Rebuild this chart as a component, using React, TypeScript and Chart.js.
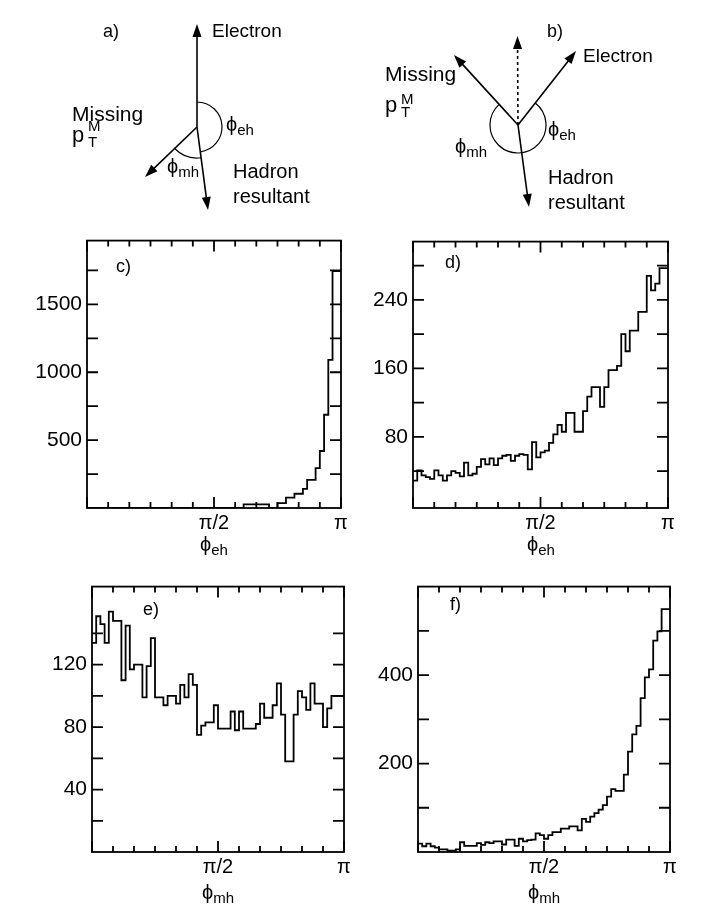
import { useEffect, useRef } from "react";
import { Chart, LineController, LineElement, PointElement, LinearScale } from "chart.js";

Chart.register(LineController, LineElement, PointElement, LinearScale);
Chart.defaults.font.family = "'Liberation Sans', Arial, sans-serif";
Chart.defaults.color = "#000";

// 60 bins of pi/60 each
const countsC = [
  0, 0, 0, 0, 0, 0, 0, 0, 0, 0,
  0, 0, 0, 0, 0, 0, 0, 0, 0, 0,
  0, 0, 0, 0, 0, 0, 0, 0, 0, 0,
  0, 0, 0, 0, 0, 0, 0, 27, 27, 27,
  27, 27, 27, 0, 0, 36, 36, 76, 76, 105,
  105, 141, 207, 207, 294, 420, 687, 1092, 1745, 1745,
];
const countsD = [
  29, 41, 35, 33, 31, 41, 35, 29, 35, 40,
  38, 34, 50, 35, 37, 45, 54, 48, 55, 47,
  55, 58, 59, 52, 58, 60, 59, 42, 74, 56,
  62, 64, 73, 83, 94, 86, 108, 108, 86, 86,
  110, 127, 138, 138, 115, 138, 158, 158, 163, 200,
  180, 204, 204, 226, 226, 268, 251, 259, 277, 277,
];
const countsE = [
  134, 151, 146, 134, 154, 148, 148, 110, 145, 117,
  120, 120, 99, 119, 137, 99, 99, 94, 100, 100,
  95, 107, 99, 114, 107, 75, 81, 83, 83, 94,
  79, 79, 79, 90, 78, 90, 79, 79, 79, 82,
  95, 86, 86, 94, 108, 88, 58, 58, 88, 103,
  99, 91, 108, 95, 95, 80, 92, 100, 100, 100,
];
const countsF = [
  19, 13, 19, 13, 10, 6, 6, 3, 3, 6,
  22, 14, 14, 14, 20, 16, 22, 20, 24, 24,
  17, 28, 28, 14, 30, 24, 27, 28, 42, 38,
  30, 38, 45, 45, 53, 53, 58, 58, 49, 75,
  68, 80, 88, 96, 106, 125, 142, 138, 138, 175,
  227, 266, 285, 348, 395, 413, 478, 499, 549, 549,
];

// x ticks every pi/12
const xTickLabels = ["", "", "", "", "", "", "π/2", "", "", "", "", "", "π"];

const yTicksC = [250, 500, 750, 1000, 1250, 1500, 1750];
const yLabelsC = [500, 1000, 1500];
const yTicksD = [40, 80, 120, 160, 200, 240, 280];
const yLabelsD = [80, 160, 240];
const yTicksE = [20, 40, 60, 80, 100, 120, 140];
const yLabelsE = [40, 80, 120];
const yTicksF = [100, 200, 300, 400, 500];
const yLabelsF = [200, 400];

const Y_AXIS_W = 70;
const X_AXIS_H = 26;
const PAD_T = 14;
const PAD_R = 16;
const FONT = "'Liberation Sans', Arial, sans-serif";
const PHI = "\u03D5";

// frame around the plot with inward ticks on all four sides
const frameTicks = {
  id: "frameTicks",
  afterDatasetsDraw(chart: any) {
    const { ctx, chartArea: a } = chart;
    const xs = chart.scales.x;
    const ys = chart.scales.y;
    ctx.save();
    ctx.strokeStyle = "#000";
    ctx.lineWidth = 1.8;
    ctx.strokeRect(a.left, a.top, a.right - a.left, a.bottom - a.top);
    ctx.beginPath();
    xs.ticks.forEach((tk: any, k: number) => {
      const px = xs.getPixelForValue(tk.value);
      const len = k % 6 === 0 ? 11 : 6;
      ctx.moveTo(px, a.bottom);
      ctx.lineTo(px, a.bottom - len);
      ctx.moveTo(px, a.top);
      ctx.lineTo(px, a.top + len);
    });
    ys.ticks.forEach((tk: any) => {
      const py = ys.getPixelForValue(tk.value);
      ctx.moveTo(a.left, py);
      ctx.lineTo(a.left + 11, py);
      ctx.moveTo(a.right, py);
      ctx.lineTo(a.right - 11, py);
    });
    ctx.stroke();
    ctx.restore();
  },
};

interface PanelProps {
  counts: number[];
  yRange: [number, number];
  yTicks: number[];
  yLabels: number[];
  box: [number, number, number, number]; // plot area l, t, r, b on the page
}

function Histogram({ counts, yRange, yTicks, yLabels, box }: PanelProps) {
  const ref = useRef<HTMLCanvasElement>(null);
  const [l, t, r, b] = box;
  const left = l - Y_AXIS_W;
  const top = t - PAD_T;
  const width = r + PAD_R - left;
  const height = b + X_AXIS_H - top;

  useEffect(() => {
    if (!ref.current) return;
    const w = Math.PI / counts.length;
    const pts = [{ x: 0, y: counts[0] }, ...counts.map((v, i) => ({ x: (i + 1) * w, y: v }))];
    const chart = new Chart(ref.current, {
      type: "line",
      data: {
        datasets: [
          {
            data: pts,
            stepped: "after",
            borderColor: "#000",
            borderWidth: 1.8,
            pointRadius: 0,
            fill: false,
          },
        ],
      },
      options: {
        responsive: false,
        animation: false,
        events: [],
        layout: { padding: { top: PAD_T, right: PAD_R, left: 0, bottom: 0 } },
        plugins: { legend: { display: false }, tooltip: { enabled: false } },
        scales: {
          x: {
            type: "linear",
            min: 0,
            max: Math.PI,
            grid: { display: false, drawTicks: false },
            border: { display: false },
            afterBuildTicks: (s: any) => {
              s.ticks = xTickLabels.map((_, k) => ({ value: (k * Math.PI) / 12 }));
            },
            afterFit: (s: any) => {
              s.height = X_AXIS_H;
            },
            ticks: {
              autoSkip: false,
              maxRotation: 0,
              padding: 3,
              font: { size: 20 },
              callback: (_v: any, i: number) => xTickLabels[i],
            },
          },
          y: {
            type: "linear",
            min: yRange[0],
            max: yRange[1],
            grid: { display: false, drawTicks: false },
            border: { display: false },
            afterBuildTicks: (s: any) => {
              s.ticks = yTicks.map((v) => ({ value: v }));
            },
            afterFit: (s: any) => {
              s.width = Y_AXIS_W;
            },
            ticks: {
              autoSkip: false,
              padding: 5,
              font: { size: 21 },
              callback: (v: any) => (yLabels.includes(Number(v)) ? String(v) : ""),
            },
          },
        },
      } as any,
      plugins: [frameTicks],
    });
    return () => chart.destroy();
  }, []);

  return (
    <canvas
      ref={ref}
      width={width}
      height={height}
      style={{ position: "absolute", left, top, width, height }}
    />
  );
}

function Arrow({ from, to, dashed }: { from: number[]; to: number[]; dashed?: boolean }) {
  const [x1, y1] = from;
  const [x2, y2] = to;
  const L = Math.hypot(x2 - x1, y2 - y1);
  const ux = (x2 - x1) / L;
  const uy = (y2 - y1) / L;
  const hl = 13;
  const hw = 4.5;
  const bx = x2 - ux * hl;
  const by = y2 - uy * hl;
  const pts = `${x2},${y2} ${bx - uy * hw},${by + ux * hw} ${bx + uy * hw},${by - ux * hw}`;
  return (
    <g>
      <line
        x1={x1}
        y1={y1}
        x2={bx + ux * 2}
        y2={by + uy * 2}
        stroke="#000"
        strokeWidth={1.6}
        strokeDasharray={dashed ? "3 3" : undefined}
      />
      <polygon points={pts} fill="#000" />
    </g>
  );
}

// clockwise arc around (cx, cy) from angle a0 to a1 (degrees, screen coords)
function Arc({ c, r, a0, a1 }: { c: number[]; r: number; a0: number; a1: number }) {
  const rad = Math.PI / 180;
  const sx = c[0] + r * Math.cos(a0 * rad);
  const sy = c[1] + r * Math.sin(a0 * rad);
  const ex = c[0] + r * Math.cos(a1 * rad);
  const ey = c[1] + r * Math.sin(a1 * rad);
  let sweep = a1 - a0;
  if (sweep < 0) sweep += 360;
  const large = sweep > 180 ? 1 : 0;
  return (
    <path
      d={`M${sx} ${sy} A${r} ${r} 0 ${large} 1 ${ex} ${ey}`}
      fill="none"
      stroke="#000"
      strokeWidth={1.2}
    />
  );
}

function PhiLabel({ x, y, sub, anchor }: { x: number; y: number; sub: string; anchor?: string }) {
  return (
    <text x={x} y={y} fontSize={20} textAnchor={anchor}>
      {PHI}
      <tspan fontSize={15} dy={4}>
        {sub}
      </tspan>
    </text>
  );
}

function Diagrams() {
  const oa = [197, 127];
  const ob = [518, 125];
  return (
    <svg
      width={718}
      height={922}
      style={{ position: "absolute", left: 0, top: 0 }}
      fontFamily={FONT}
      fill="#000"
    >
      {/* a) */}
      <text x={103} y={37} fontSize={18}>a)</text>
      <Arrow from={oa} to={[197, 24]} />
      <Arrow from={oa} to={[208, 210]} />
      <Arrow from={oa} to={[145, 177]} />
      <Arc c={oa} r={25} a0={-90} a1={82.5} />
      <Arc c={oa} r={31} a0={82.5} a1={136} />
      <text x={212} y={37} fontSize={19}>Electron</text>
      <text x={72} y={121} fontSize={21}>Missing</text>
      <text x={72} y={142} fontSize={22}>p</text>
      <text x={88} y={131} fontSize={15}>M</text>
      <text x={88} y={147} fontSize={15}>T</text>
      <PhiLabel x={226} y={131} sub="eh" />
      <PhiLabel x={167} y={173} sub="mh" />
      <text x={233} y={178} fontSize={20}>Hadron</text>
      <text x={233} y={203} fontSize={20}>resultant</text>

      {/* b) */}
      <text x={547} y={37} fontSize={18}>b)</text>
      <Arrow from={ob} to={[517.5, 36]} dashed />
      <Arrow from={ob} to={[576, 51]} />
      <Arrow from={ob} to={[454, 55]} />
      <Arrow from={ob} to={[529, 207]} />
      <Arc c={ob} r={28} a0={-52} a1={227.6} />
      <text x={583} y={62} fontSize={19}>Electron</text>
      <text x={385} y={81} fontSize={21}>Missing</text>
      <text x={385} y={112} fontSize={22}>p</text>
      <text x={401} y={104} fontSize={15}>M</text>
      <text x={401} y={117} fontSize={15}>T</text>
      <PhiLabel x={548} y={136} sub="eh" />
      <PhiLabel x={455} y={153} sub="mh" />
      <text x={548} y={184} fontSize={20}>Hadron</text>
      <text x={548} y={209} fontSize={20}>resultant</text>

      {/* panel letters */}
      <text x={116} y={272} fontSize={18}>c)</text>
      <text x={445} y={268} fontSize={18}>d)</text>
      <text x={143} y={615} fontSize={18}>e)</text>
      <text x={450} y={610} fontSize={18}>f)</text>

      {/* axis titles */}
      <PhiLabel x={214} y={551} sub="eh" anchor="middle" />
      <PhiLabel x={541} y={551} sub="eh" anchor="middle" />
      <PhiLabel x={218} y={899} sub="mh" anchor="middle" />
      <PhiLabel x={544} y={899} sub="mh" anchor="middle" />
    </svg>
  );
}

export default function App() {
  return (
    <div
      style={{ position: "absolute", left: 0, top: 0, width: 718, height: 922, background: "#fff", fontFamily: FONT }}
    >
      <Histogram counts={countsC} yRange={[0, 1970]} yTicks={yTicksC} yLabels={yLabelsC} box={[87, 237, 341, 508]} />
      <Histogram counts={countsD} yRange={[-3, 308]} yTicks={yTicksD} yLabels={yLabelsD} box={[413, 238, 668, 508]} />
      <Histogram counts={countsE} yRange={[0, 170]} yTicks={yTicksE} yLabels={yLabelsE} box={[92, 583, 344, 852]} />
      <Histogram counts={countsF} yRange={[0, 600]} yTicks={yTicksF} yLabels={yLabelsF} box={[418, 583, 670, 852]} />
      <Diagrams />
    </div>
  );
}
